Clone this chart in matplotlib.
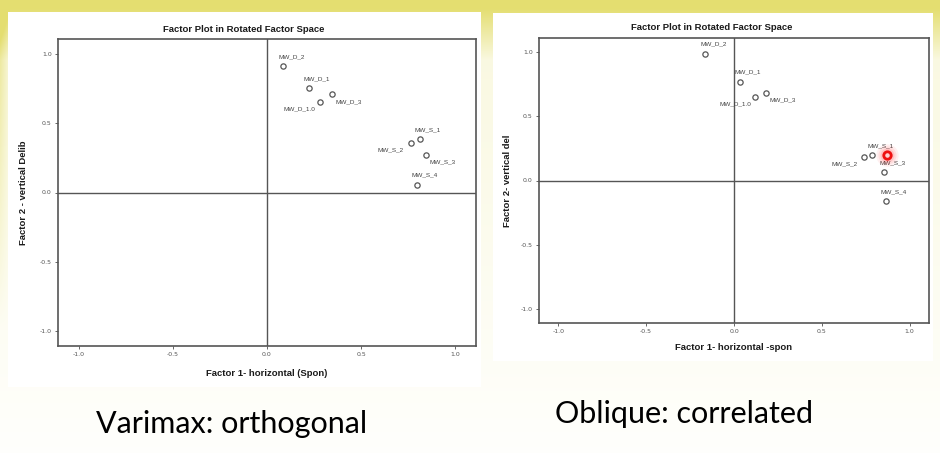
import numpy as np
import matplotlib.pyplot as plt
from matplotlib.patches import Rectangle

W, H = 940, 453

# factor loadings
varimax_names = ['MW_D_2', 'MW_D_1', 'MW_D_1.0', 'MW_D_3', 'MW_S_1', 'MW_S_2', 'MW_S_3', 'MW_S_4']
varimax_f1 = [0.087, 0.222, 0.281, 0.346, 0.812, 0.764, 0.844, 0.796]
varimax_f2 = [0.915, 0.753, 0.656, 0.709, 0.385, 0.358, 0.274, 0.056]

oblique_names = ['MW_D_2', 'MW_D_1', 'MW_D_1.0', 'MW_D_3', 'MW_S_1', 'MW_S_2', 'MW_S_3', 'MW_S_4']
oblique_f1 = [-0.164, 0.032, 0.122, 0.181, 0.788, 0.742, 0.855, 0.863]
oblique_f2 = [0.987, 0.771, 0.648, 0.685, 0.198, 0.182, 0.065, -0.161]

# laser pointer spot visible in the right plot
pointer_xy = (0.872, 0.195)

ticks = [-1.0, -0.5, 0.0, 0.5, 1.0]
tick_labels = ['-1.0', '-0.5', '0.0', '0.5', '1.0']

# label placement (pixels from the marker), SPSS style
place = {'up': (8, 9.5), 'dl': (-20, -7), 'dr': (17, -7)}
label_pos = {'MW_D_2': 'up', 'MW_D_1': 'up', 'MW_D_1.0': 'dl', 'MW_D_3': 'dr',
             'MW_S_1': 'up', 'MW_S_2': 'dl', 'MW_S_3': 'dr', 'MW_S_4': 'up'}
label_pos_obl = dict(label_pos, MW_S_3='up')


def frac(x0, y0, x1, y1):
    # pixel box (top-left origin) -> figure fraction rect
    return [x0 / W, 1 - y1 / H, (x1 - x0) / W, (y1 - y0) / H]


fig = plt.figure(figsize=(W / 100, H / 100), dpi=100)

# slide background
bg = fig.add_axes([0, 0, 1, 1])
yy, xx = np.mgrid[0:H, 0:W]
s = np.clip(1 - yy / 60.0, 0, 1) * 0.9 + 0.22 * np.clip(1 - yy / 453.0, 0, 1)
s = s + 0.55 * np.clip(1 - xx / 10.0, 0, 1) * np.clip(1 - yy / 330.0, 0, 1)
s = np.clip(s, 0, 1)
yellow = np.array([228, 222, 112]) / 255.0
img = (1 - s[..., None]) * np.array([1.0, 1.0, 0.99]) + s[..., None] * yellow
bg.imshow(img, extent=[0, W, H, 0], aspect='auto')
bg.set_xlim(0, W)
bg.set_ylim(H, 0)
bg.axis('off')
bg.add_patch(Rectangle((8, 12), 473, 375, facecolor='white', edgecolor='none'))
bg.add_patch(Rectangle((493, 13), 440, 348, facecolor='white', edgecolor='none'))

bold = dict(family='Liberation Sans', fontweight='bold', color='#1a1a1a')


def factor_plot(rect, f1, f2, names, pos, xlabel, ylabel, ylab_x, title_x, title_y, xlab_y):
    ax = fig.add_axes(frac(*rect))
    ax.set_xlim(-1.11, 1.11)
    ax.set_ylim(-1.11, 1.11)
    ax.axhline(0, color='#555555', lw=1.0)
    ax.axvline(0, color='#555555', lw=1.0)
    ax.plot(f1, f2, 'o', ms=3.8, mfc='white', mec='#555555', mew=0.9, ls='none')
    for x, y, n in zip(f1, f2, names):
        ax.annotate(n, (x, y), xytext=place[pos[n]], textcoords='offset pixels',
                    ha='center', va='center', fontsize=4.6, color='#444444',
                    family='Liberation Sans')
    ax.set_xticks(ticks)
    ax.set_xticklabels(tick_labels)
    ax.set_yticks(ticks)
    ax.set_yticklabels(tick_labels)
    ax.tick_params(length=2.5, width=0.7, color='#666666', labelsize=4.5,
                   labelcolor='#555555', pad=2)
    for sp in ax.spines.values():
        sp.set_color('#555555')
        sp.set_linewidth(1.2)
    fig.text(title_x / W, 1 - title_y / H, 'Factor Plot in Rotated Factor Space',
             ha='center', va='center', fontsize=6.8, **bold)
    fig.text((rect[0] + rect[2]) / 2 / W, 1 - xlab_y / H, xlabel,
             ha='center', va='center', fontsize=6.8, **bold)
    fig.text(ylab_x / W, 1 - (rect[1] + rect[3]) / 2 / H, ylabel, rotation=90,
             ha='center', va='center', fontsize=6.8, **bold)
    return ax


factor_plot((58, 39, 476, 346), varimax_f1, varimax_f2, varimax_names, label_pos,
            'Factor 1- horizontal (Spon)', 'Factor 2 - vertical Delib', 24, 244, 29, 373)
ax2 = factor_plot((539, 38, 929, 323), oblique_f1, oblique_f2, oblique_names, label_pos_obl,
                  'Factor 1- horizontal -spon', 'Factor 2- vertical del', 508, 712, 28, 348)

# pointer glow
for sz, a in [(260, 0.06), (170, 0.08), (100, 0.12), (55, 0.18)]:
    ax2.scatter([pointer_xy[0]], [pointer_xy[1]], s=sz, color='red', alpha=a, lw=0, zorder=5)
ax2.scatter([pointer_xy[0]], [pointer_xy[1]], s=28, facecolor='#ffd0d0', edgecolor='#ee1111',
            linewidth=2.0, zorder=6)

# captions
fig.text(232 / W, 1 - 424 / H, 'Varimax: orthogonal', ha='center', va='center',
         fontsize=22, family='Lato', color='black')
fig.text(684 / W, 1 - 414 / H, 'Oblique: correlated', ha='center', va='center',
         fontsize=22, family='Lato', color='black')

fig.savefig('out.png', dpi=100)
